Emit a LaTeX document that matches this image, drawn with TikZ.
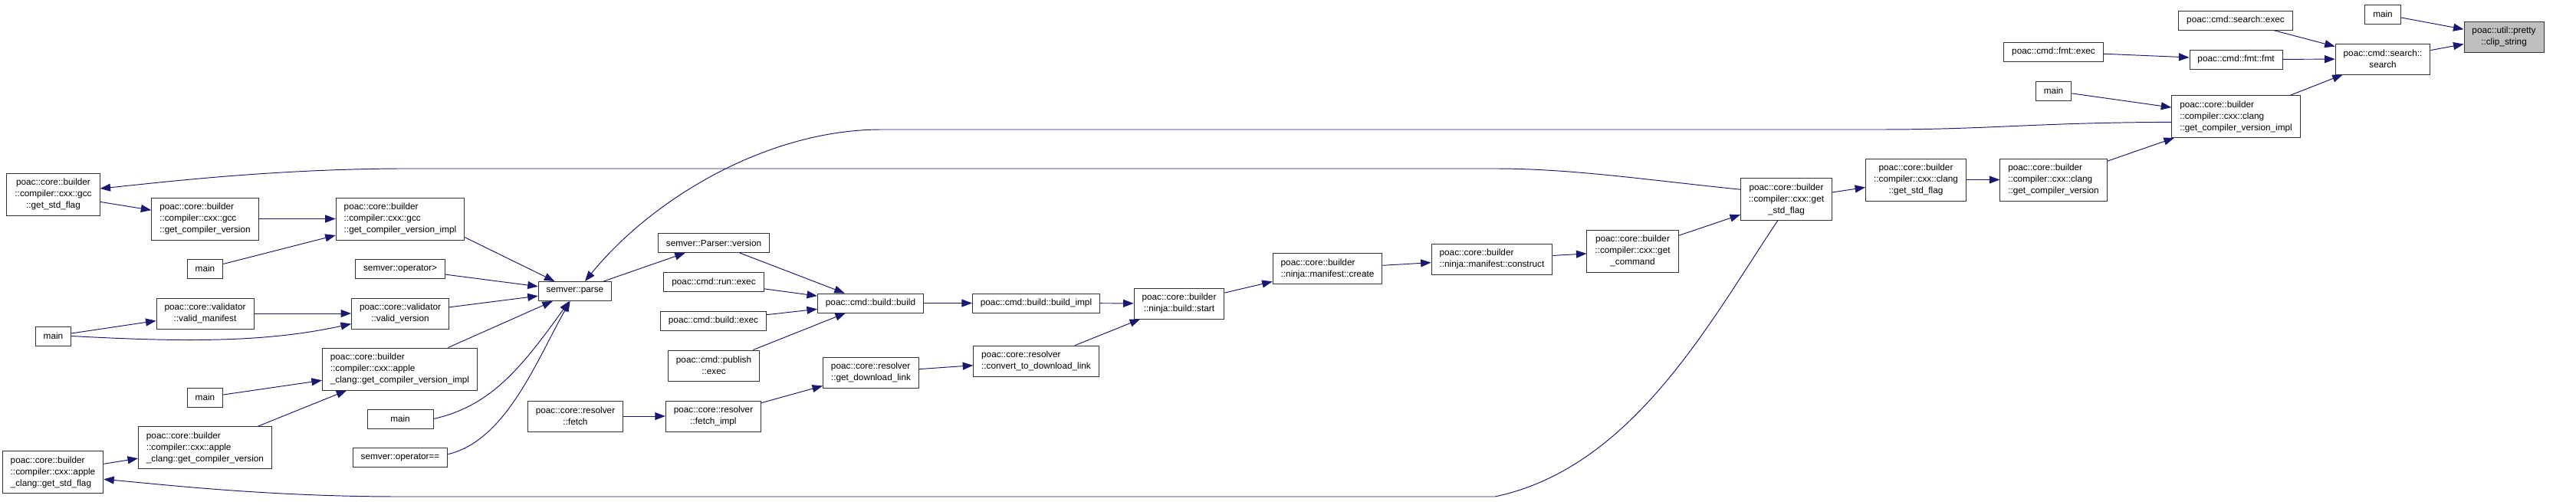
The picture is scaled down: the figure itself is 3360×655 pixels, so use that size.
\documentclass[tikz,border=0pt]{standalone}
\usepackage{fontspec}
\setmainfont{Liberation Sans}
\usetikzlibrary{arrows.meta}
\definecolor{edgeblue}{HTML}{191970}
\definecolor{grey75}{HTML}{BFBFBF}
\begin{document}
\begin{tikzpicture}[x=0.02cm, y=-0.02cm,
    func/.style={draw=black!80, line width=0.55pt, fill=white, inner xsep=0.21cm, inner ysep=0.05cm,
        minimum height=0.5cm, align=left, font=\fontsize{6.7}{8.54}\selectfont},
    lines2/.style={minimum height=0.8cm},
    lines3/.style={minimum height=1.1cm},
    call/.style={draw=edgeblue, line width=0.55pt, -{Triangle[length=0.27cm, width=0.2cm]}}]
    \useasboundingbox (0,0) rectangle (3360,655);
    \node[func, lines2, align=center, fill=grey75] (clip) at (3266,48) {poac::util::pretty\\::clip\_string};
    \node[func] (mainA) at (3108,18.5) {main};
    \node[func, lines2, align=center] (search) at (3108,77) {poac::cmd::search::\\search};
    \node[func] (searchexec) at (2916,26.5) {poac::cmd::search::exec};
    \node[func] (fmtfmt) at (2916.5,77.5) {poac::cmd::fmt::fmt};
    \node[func, lines3] (clangimpl) at (2916.5,152) {poac::core::builder\\::compiler::cxx::clang\\::get\_compiler\_version\_impl};
    \node[func] (fmtexec) at (2678.5,67.5) {poac::cmd::fmt::exec};
    \node[func] (mainB) at (2678.5,118.5) {main};
    \node[func, lines3] (clangver) at (2678.5,234.5) {poac::core::builder\\::compiler::cxx::clang\\::get\_compiler\_version};
    \node[func, lines3, align=center] (clangstd) at (2499,234.5) {poac::core::builder\\::compiler::cxx::clang\\::get\_std\_flag};
    \node[func, lines3, align=center] (cxxstd) at (2330,260) {poac::core::builder\\::compiler::cxx::get\\\_std\_flag};
    \node[func, lines3, align=center] (getcmd) at (2129.5,327.5) {poac::core::builder\\::compiler::cxx::get\\\_command};
    \node[func, lines2] (construct) at (1946,338) {poac::core::builder\\::ninja::manifest::construct};
    \node[func, lines2] (create) at (1731.5,350.5) {poac::core::builder\\::ninja::manifest::create};
    \node[func, lines2, align=center] (start) at (1538,396) {poac::core::builder\\::ninja::build::start};
    \node[func] (buildimpl) at (1351.5,395.5) {poac::cmd::build::build\_impl};
    \node[func, lines2] (convert) at (1351.5,471) {poac::core::resolver\\::convert\_to\_download\_link};
    \node[func] (build) at (1135.5,395.5) {poac::cmd::build::build};
    \node[func, lines2] (download) at (1136,486) {poac::core::resolver\\::get\_download\_link};
    \node[func] (version) at (931,317) {semver::Parser::version};
    \node[func] (runexec) at (931,368) {poac::cmd::run::exec};
    \node[func] (buildexec) at (930.5,418.5) {poac::cmd::build::exec};
    \node[func, lines2, align=center] (publish) at (931,477) {poac::cmd::publish\\::exec};
    \node[func, lines2, align=center] (fetchimpl) at (930.5,543) {poac::core::resolver\\::fetch\_impl};
    \node[func, lines2, align=center] (fetch) at (750.5,543) {poac::core::resolver\\::fetch};
    \node[func] (parse) at (750,380) {semver::parse};
    \node[func, lines3] (gccimpl) at (522,285.5) {poac::core::builder\\::compiler::cxx::gcc\\::get\_compiler\_version\_impl};
    \node[func] (opgt) at (522,350.5) {semver::operator>};
    \node[func, lines2, align=center] (validver) at (522,409) {poac::core::validator\\::valid\_version};
    \node[func, lines3] (appleimpl) at (521.5,481.5) {poac::core::builder\\::compiler::cxx::apple\\\_clang::get\_compiler\_version\_impl};
    \node[func, minimum width=1.72cm, align=center] (mainE) at (522,546.5) {main};
    \node[func] (opeq) at (522,597) {semver::operator==};
    \node[func] (mainC) at (267.5,350.5) {main};
    \node[func] (mainD) at (267.5,518.5) {main};
    \node[func, lines3] (gccver) at (267.5,285.5) {poac::core::builder\\::compiler::cxx::gcc\\::get\_compiler\_version};
    \node[func, lines2, align=center] (manifest) at (267.5,409) {poac::core::validator\\::valid\_manifest};
    \node[func, lines3] (applever) at (267.5,584) {poac::core::builder\\::compiler::cxx::apple\\\_clang::get\_compiler\_version};
    \node[func, lines3, align=center] (gccstd) at (69.5,253.5) {poac::core::builder\\::compiler::cxx::gcc\\::get\_std\_flag};
    \node[func] (mainF) at (69.5,438.5) {main};
    \node[func, lines3] (applestd) at (69,616) {poac::core::builder\\::compiler::cxx::apple\\\_clang::get\_std\_flag};

    \draw[call] (mainA) -- (clip);
    \draw[call] (search) -- (clip);
    \draw[call] (searchexec) -- (search);
    \draw[call] (fmtfmt) -- (search);
    \draw[call] (clangimpl) -- (search);
    \draw[call] (fmtexec) -- (fmtfmt);
    \draw[call] (mainB) -- (clangimpl);
    \draw[call] (clangver) -- (clangimpl);
    \draw[call] (clangstd) -- (clangver);
    \draw[call] (cxxstd) -- (clangstd);
    \draw[call] (getcmd) -- (cxxstd);
    \draw[call] (construct) -- (getcmd);
    \draw[call] (create) -- (construct);
    \draw[call] (start) -- (create);
    \draw[call] (buildimpl) -- (start);
    \draw[call] (convert) -- (start);
    \draw[call] (build) -- (buildimpl);
    \draw[call] (download) -- (convert);
    \draw[call] (fetchimpl) -- (download);
    \draw[call] (fetch) -- (fetchimpl);
    \draw[call] (version) -- (build);
    \draw[call] (runexec) -- (build);
    \draw[call] (buildexec) -- (build);
    \draw[call] (publish) -- (build);
    \draw[call] (parse) -- (version);
    \draw[call] (gccimpl.-16) -- (parse);
    \draw[call] (opgt) -- (parse);
    \draw[call] (validver) -- (parse);
    \draw[call] (appleimpl) -- (parse);
    \draw[call] (mainE.east) .. controls (640,530) and (680,480) .. (parse.240);
    \draw[call] (opeq.4) .. controls (660,575) and (700,470) .. (parse.244);
    \draw[call] (clangimpl.185) .. controls (2650,160) and (2600,169) .. (2450,169) -- (1150,169) .. controls (1000,169) and (850,260) .. (parse.45);
    \draw[call] (gccver) -- (gccimpl);
    \draw[call] (mainC) -- (gccimpl);
    \draw[call] (gccstd) -- (gccver);
    \draw[call] (manifest) -- (validver);
    \draw[call] (mainF) -- (manifest);
    \draw[call] (mainF.east) .. controls (250,447) and (350,446) .. (validver.192);
    \draw[call] (mainD) -- (appleimpl);
    \draw[call] (applever) -- (appleimpl);
    \draw[call] (applestd) -- (applever);
    \draw[call] (cxxstd.168) .. controls (2150,235) and (2050,220) .. (1950,220) -- (520,220) .. controls (350,221) and (210,238) .. (gccstd.7);
    \draw[call] (cxxstd.248) .. controls (2230,420) and (2130,610) .. (1950,648) -- (520,648) .. controls (350,648) and (210,632) .. (applestd.352);
\end{tikzpicture}
\end{document}
